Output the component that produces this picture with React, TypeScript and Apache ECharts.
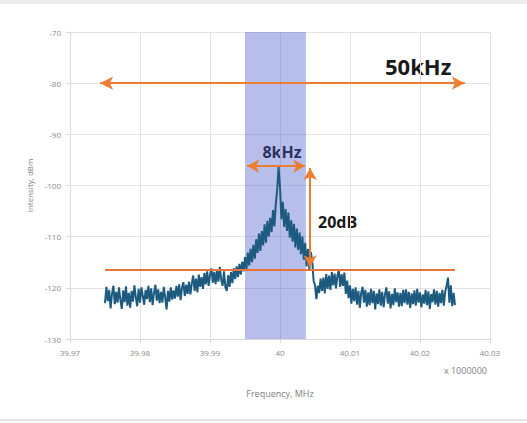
import React, { useEffect, useRef } from "react";
import * as echarts from "echarts";

const xTickMin = 39.97;
const xTickMax = 40.03;
const xTickStep = 0.01;
const yTickMin = -130;
const yTickMax = -70;
const yTickStep = 10;

const freqStart = 39.975;
const freqStep = 0.0002;
const intensity: number[] = [
  -123.0, -119.8, -122.6, -120.4, -124.0, -121.2, -119.6, -123.2, -120.8, -122.9,
  -119.9, -122.4, -124.1, -120.5, -122.8, -119.7, -123.5, -121.0, -123.9, -120.6,
  -122.7, -119.5, -121.8, -123.6, -120.2, -122.9, -119.9, -121.6, -123.3, -120.4,
  -122.2, -119.6, -122.8, -120.1, -123.4, -121.0, -119.4, -122.5, -120.3, -123.0,
  -120.8, -122.9, -119.8, -121.9, -124.2, -120.6, -122.7, -119.9, -122.3, -120.5,
  -122.1, -119.6, -121.7, -119.3, -122.4, -120.0, -118.9, -121.6, -119.4, -121.2,
  -118.8, -121.3, -119.1, -117.6, -120.6, -118.2, -120.9, -117.4, -119.8, -117.9,
  -120.2, -117.1, -119.3, -116.8, -119.6, -117.5, -116.2, -119.0, -116.9, -119.3,
  -116.6, -118.8, -115.9, -118.4, -119.6, -116.8, -119.9, -120.6, -117.5, -119.8,
  -116.9, -119.1, -116.2, -118.3, -115.8, -117.9, -115.3, -117.4, -114.9, -116.8,
  -114.0, -116.4, -113.1, -115.6, -112.4, -115.0, -111.6, -114.3, -110.5, -113.2,
  -109.4, -112.8, -108.9, -111.7, -107.6, -111.2, -106.9, -110.0, -106.3, -109.1,
  -104.8, -108.0, -103.6, -100.8, -96.4, -100.3, -106.6, -103.2, -108.1, -104.6,
  -108.9, -105.3, -110.2, -106.8, -111.0, -107.5, -112.1, -108.4, -112.6, -109.2,
  -113.4, -110.0, -114.5, -111.2, -115.8, -112.4, -116.5, -113.0, -114.6, -118.6,
  -119.5, -122.2, -119.6, -121.0, -118.2, -120.6, -118.0, -121.1, -117.3, -120.2,
  -117.6, -120.4, -116.9, -119.5, -117.2, -120.1, -117.6, -116.6, -119.8, -117.3,
  -119.6, -117.0, -121.2, -118.6, -122.0, -119.5, -123.1, -120.2, -122.6, -119.9,
  -123.3, -120.6, -123.9, -121.0, -119.8, -122.9, -120.4, -123.7, -120.9, -123.4,
  -120.2, -123.0, -120.6, -124.2, -121.1, -123.2, -120.3, -123.5, -120.8, -123.8,
  -121.3, -119.9, -123.1, -120.7, -124.0, -121.2, -123.4, -120.1, -122.8, -120.9,
  -123.7, -121.0, -123.6, -120.4, -123.0, -120.3, -123.3, -120.8, -123.9, -121.1,
  -123.2, -120.5, -123.5, -120.2, -122.9, -120.9, -123.8, -121.3, -123.1, -120.4,
  -123.4, -120.7, -124.1, -121.2, -122.8, -120.3, -123.3, -120.6, -123.7, -121.0,
  -123.0, -120.4, -123.5, -120.8, -119.6, -118.0, -122.9, -119.5, -123.6, -121.0,
  -123.4,
];

// annotation values (frequency MHz / dBm)
const bandStart = 39.995;
const bandEnd = 40.0037;
const span50Start = 39.9743;
const span50End = 40.0264;
const span50Level = -80;
const floorStart = 39.975;
const floorEnd = 40.025;
const floorLevel = -116.5;
const span8Start = 39.9953;
const span8End = 40.0036;
const span8Level = -96.2;
const dbMarkerFreq = 40.0043;
const dbTop = -96.6;
const dbBottom = -116.0;

const orange = "#ed7d31";
const labelFont = "Open Sans";
const boldFont = "Open Sans";

export default function App() {
  const ref = useRef<HTMLDivElement>(null);
  useEffect(() => {
    if (!ref.current) return;
    const chart = echarts.init(ref.current, null, { renderer: "svg" });
    const data = intensity.map((v, i) => [Number((freqStart + i * freqStep).toFixed(4)), v]);
    chart.setOption({
      animation: false,
      backgroundColor: "#ffffff",
      grid: { left: 70, right: 37, top: 32, bottom: 84, containLabel: false },
      xAxis: {
        type: "value",
        min: xTickMin,
        max: xTickMax,
        interval: xTickStep,
        name: "Frequency, MHz",
        nameLocation: "middle",
        nameGap: 50,
        nameTextStyle: { color: "#7f7f7f", fontSize: 9, fontFamily: labelFont },
        axisLine: { show: true, lineStyle: { color: "#d9d9d9" } },
        axisTick: { show: true, length: 4, lineStyle: { color: "#d9d9d9" } },
        axisLabel: {
          color: "#8a8a8a",
          fontSize: 8,
          fontFamily: labelFont,
          margin: 9,
          formatter: (v: number) => String(Number(v.toFixed(2))),
        },
        splitLine: { show: true, lineStyle: { color: "#e3e3e3", width: 1 } },
      },
      yAxis: {
        type: "value",
        min: yTickMin,
        max: yTickMax,
        interval: yTickStep,
        name: "Intensity, dBm",
        nameLocation: "middle",
        nameGap: 37,
        nameTextStyle: { color: "#7f7f7f", fontSize: 8, fontFamily: labelFont },
        axisLine: { show: true, lineStyle: { color: "#d9d9d9" } },
        axisTick: { show: true, length: 4, lineStyle: { color: "#d9d9d9" } },
        axisLabel: { color: "#8a8a8a", fontSize: 8, fontFamily: labelFont, margin: 9 },
        splitLine: { show: true, lineStyle: { color: "#e3e3e3", width: 1 } },
      },
      series: [
        {
          type: "line",
          data,
          showSymbol: false,
          clip: false,
          lineStyle: { color: "#1d5a80", width: 2 },
          itemStyle: { color: "#1d5a80" },
          z: 3,
          markArea: {
            silent: true,
            itemStyle: { color: "rgba(68,84,200,0.38)" },
            data: [[{ xAxis: bandStart, yAxis: -69.2 }, { xAxis: bandEnd, yAxis: -130.6 }]],
          },
        },
        {
          type: "line",
          data: [],
          clip: false,
          z: 4,
          markLine: {
            silent: true,
            animation: false,
            label: { show: false },
            symbol: ["none", "none"],
            lineStyle: { color: orange, width: 2, type: "solid" },
            data: [
              [
                { coord: [floorStart, floorLevel], symbol: "none" },
                { coord: [floorEnd, floorLevel], symbol: "none", lineStyle: { color: "#e8763a", width: 2, type: "solid" } },
              ],
              [
                { coord: [span50Start, span50Level], symbol: "arrow", symbolSize: [10, 13] },
                { coord: [span50End, span50Level], symbol: "arrow", symbolSize: [10, 13] },
              ],
              [
                { coord: [span8Start, span8Level], symbol: "arrow", symbolSize: [10, 12] },
                { coord: [span8End, span8Level], symbol: "arrow", symbolSize: [10, 12] },
              ],
              [
                { coord: [dbMarkerFreq, dbTop], symbol: "arrow", symbolSize: [10, 12] },
                { coord: [dbMarkerFreq, dbBottom], symbol: "arrow", symbolSize: [10, 12] },
              ],
            ],
          },
        },
      ],
      graphic: [
        { type: "rect", shape: { x: 0, y: 0, width: 527, height: 4 }, style: { fill: "#ececec" }, silent: true },
        { type: "rect", shape: { x: 0, y: 419, width: 527, height: 2 }, style: { fill: "#e6e6e6" }, silent: true },
        {
          type: "text",
          x: 385,
          y: 66,
          style: { text: "50kHz", fill: "#1a1a1a", fontFamily: boldFont, fontWeight: 700, fontSize: 22, verticalAlign: "middle" },
        },
        {
          type: "text",
          x: 282,
          y: 152,
          style: { text: "8kHz", fill: "#1a1a1a", fontFamily: boldFont, fontWeight: 700, fontSize: 16, align: "center", verticalAlign: "middle" },
        },
        {
          type: "text",
          x: 318,
          y: 222,
          style: { text: "20dB", fill: "#1a1a1a", fontFamily: boldFont, fontWeight: 700, fontSize: 16, verticalAlign: "middle" },
        },
        {
          type: "text",
          x: 487,
          y: 370,
          style: { text: "x 1000000", fill: "#7f7f7f", fontFamily: labelFont, fontSize: 9, align: "right", verticalAlign: "middle" },
        },
      ],
    });
    return () => chart.dispose();
  }, []);
  return <div ref={ref} style={{ position: "fixed", left: 0, top: 0, width: 527, height: 423 }} />;
}
